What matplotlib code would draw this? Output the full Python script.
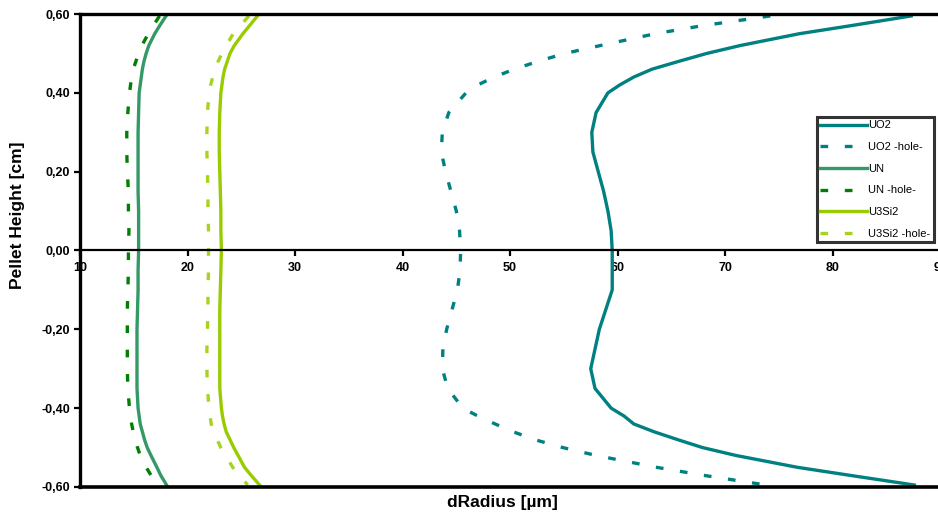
import matplotlib
matplotlib.use("Agg")
import matplotlib.pyplot as plt
from matplotlib.ticker import FuncFormatter, FixedLocator

plt.rcParams['font.family'] = ['Liberation Sans', 'DejaVu Sans']

# pellet height [cm] (shared by all series)
height = [0.595, 0.57, 0.55, 0.52, 0.50, 0.48, 0.46, 0.44, 0.42, 0.40, 0.35, 0.30,
          0.25, 0.20, 0.15, 0.10, 0.05, 0.00, -0.05, -0.10, -0.15, -0.20, -0.25,
          -0.30, -0.35, -0.40, -0.42, -0.44, -0.46, -0.48, -0.50, -0.52, -0.55,
          -0.57, -0.595]

# dRadius [um]
uo2 = [87.3, 81.6, 76.9, 71.4, 68.3, 65.7, 63.2, 61.5, 60.2, 59.1, 58.0, 57.6,
       57.7, 58.2, 58.7, 59.1, 59.4, 59.5, 59.5, 59.5, 58.9, 58.3, 57.9,
       57.5, 57.9, 59.4, 60.6, 61.5, 63.4, 65.6, 67.9, 71.0, 76.7,
       81.5, 87.6]
uo2_hole = [74.2, 67.8, 63.5, 58.4, 55.1, 52.6, 50.4, 48.5, 47.0, 45.9, 44.3, 43.7,
            43.6, 44.0, 44.5, 45.0, 45.3, 45.4, 45.35, 45.1, 44.6, 44.1, 43.75,
            43.7, 44.2, 45.6, 47.0, 48.6, 50.3, 52.3, 54.9, 58.0, 63.6,
            67.9, 73.8]
un = [18.0, 17.4, 16.95, 16.4, 16.15, 15.95, 15.8, 15.7, 15.6, 15.5, 15.45, 15.4,
      15.4, 15.4, 15.4, 15.45, 15.45, 15.45, 15.4, 15.4, 15.35, 15.3, 15.3,
      15.3, 15.3, 15.4, 15.5, 15.6, 15.8, 16.0, 16.25, 16.6, 17.15,
      17.5, 18.05]
un_hole = [17.4, 16.8, 16.35, 15.75, 15.45, 15.2, 14.95, 14.8, 14.7, 14.6, 14.45, 14.35,
           14.35, 14.4, 14.5, 14.5, 14.55, 14.5, 14.5, 14.45, 14.4, 14.4, 14.4,
           14.4, 14.45, 14.6, 14.7, 14.8, 14.95, 15.15, 15.35, 15.6, 16.15,
           16.6, 17.3]
u3si2 = [26.5, 25.75, 25.15, 24.35, 23.95, 23.7, 23.45, 23.3, 23.2, 23.1, 23.0, 22.95,
         22.95, 23.0, 23.05, 23.1, 23.1, 23.15, 23.1, 23.05, 23.0, 23.0, 23.0,
         23.0, 23.0, 23.15, 23.25, 23.4, 23.6, 23.95, 24.3, 24.7, 25.3,
         25.9, 26.7]
u3si2_hole = [25.7, 24.9, 24.25, 23.6, 23.2, 22.85, 22.6, 22.35, 22.15, 22.0, 21.85, 21.8,
              21.8, 21.85, 21.9, 21.9, 21.95, 21.95, 21.95, 21.9, 21.9, 21.85, 21.8,
              21.8, 21.85, 22.0, 22.1, 22.2, 22.45, 22.75, 23.1, 23.55, 24.2,
              24.8, 25.6]

x_ticks = [10, 20, 30, 40, 50, 60, 70, 80, 90]
y_ticks = [-0.6, -0.4, -0.2, 0.0, 0.2, 0.4, 0.6]

fig = plt.figure(figsize=(9.38, 5.15), dpi=100)
ax = fig.add_axes([0.0853, 0.0544, 0.917, 0.9184])

dash = (0, (2.3, 5.0))
ax.plot(uo2, height, color='#008080', lw=2.4, label='UO2')
ax.plot(uo2_hole, height, color='#008080', lw=2.4, ls=dash, label='UO2 -hole-')
ax.plot(un, height, color='#339966', lw=2.4, label='UN')
ax.plot(un_hole, height, color='#008000', lw=2.4, ls=dash, label='UN -hole-')
ax.plot(u3si2, height, color='#99CC00', lw=2.4, label='U3Si2')
ax.plot(u3si2_hole, height, color='#A6D41E', lw=2.4, ls=dash, label='U3Si2 -hole-')

ax.set_xlim(10, 90)
ax.set_ylim(-0.6, 0.6)

# x axis crosses at zero, plot area border drawn around
ax.spines['bottom'].set_position(('data', 0))
ax.spines['bottom'].set_linewidth(1.6)
ax.spines['top'].set_linewidth(2.4)
ax.spines['left'].set_linewidth(2.4)
ax.spines['right'].set_visible(False)
ax.axhline(-0.6, color='black', lw=2.6, clip_on=False, zorder=5)

ax.xaxis.set_major_locator(FixedLocator(x_ticks))
ax.yaxis.set_major_locator(FixedLocator(y_ticks))
ax.yaxis.set_major_formatter(FuncFormatter(lambda v, p: f"{v:.2f}".replace('.', ',').replace('-0,00', '0,00')))
ax.tick_params(axis='x', direction='out', length=4, width=1.6, pad=4, labelsize=9)
ax.tick_params(axis='y', direction='out', length=4, width=1.6, pad=3, labelsize=9)
for lbl in ax.get_xticklabels() + ax.get_yticklabels():
    lbl.set_fontweight('bold')

fig.text(0.536, 0.024, 'dRadius [µm]', ha='center', va='center', fontsize=12.5, fontweight='bold')
fig.text(0.019, 0.583, 'Pellet Height [cm]', ha='center', va='center', rotation=90,
         fontsize=12.5, fontweight='bold')

leg = ax.legend(loc='upper left', bbox_to_anchor=(0.857, 0.782), fontsize=8,
                frameon=True, fancybox=False, edgecolor='black', handlelength=4.2,
                handletextpad=0.1, labelspacing=1.05, borderpad=0.3, borderaxespad=0)
leg.get_frame().set_linewidth(2.2)

fig.savefig('out.png', dpi=100)
